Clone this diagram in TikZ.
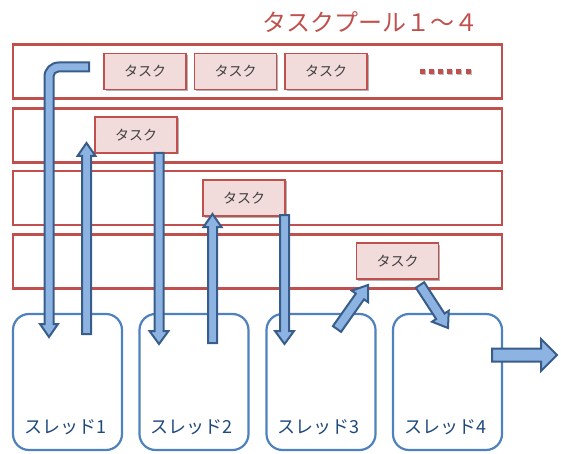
\documentclass[tikz,border=0pt]{standalone}
\usepackage{fontspec}
\newfontfamily\jp{Noto Sans CJK JP}
\usetikzlibrary{calc,shadows}
\definecolor{poolred}{HTML}{C0504D}
\definecolor{taskfill}{HTML}{F2DCDB}
\definecolor{thblue}{HTML}{4F81BD}
\definecolor{thtext}{HTML}{1F497D}
\definecolor{arrfill}{HTML}{8DB3E2}
\definecolor{arrline}{HTML}{385D8A}
\definecolor{tasktext}{HTML}{404040}
% #1 tail, #2 tip, #3 shaft half width, #4 head half width, #5 head length
\newcommand\blockarrow[5]{%
  \coordinate (bap) at ($(#2)!#5!(#1)$);
  \draw[barrow] ($(#1)!#3!90:(#2)$) -- ($(bap)!#3!90:(#2)$) -- ($(bap)!#4!90:(#2)$) -- (#2)
    -- ($(bap)!#4!-90:(#2)$) -- ($(bap)!#3!-90:(#2)$) -- ($(#1)!#3!-90:(#2)$) -- cycle;}
\begin{document}
\begin{tikzpicture}[x=1pt,y=-1pt,
  pool/.style={draw=poolred, line width=2.2pt, minimum width=489pt, minimum height=54pt, inner sep=0pt},
  task/.style={draw=poolred, line width=1.2pt, fill=taskfill, minimum width=82pt, minimum height=36pt,
    inner sep=0pt, text=tasktext, font=\jp\fontsize{14}{14}\selectfont,
    drop shadow={shadow xshift=1.5pt, shadow yshift=-1.5pt, opacity=0.3, fill=black}},
  thread/.style={draw=thblue, line width=2.2pt, rounded corners=16pt, minimum width=109pt, minimum height=136pt, inner sep=0pt},
  thlabel/.style={text=thtext, font=\jp\fontsize{18}{18}\selectfont, inner sep=0pt},
  dotsq/.style={fill=poolred, minimum size=5pt, inner sep=0pt,
    drop shadow={shadow xshift=1pt, shadow yshift=-1.5pt, opacity=0.25, fill=black}},
  barrow/.style={fill=arrfill, draw=arrline, line width=2pt, line join=miter}]
\useasboundingbox (0,0) rectangle (561,454);
% title
\node[text=poolred, font=\jp\fontsize{24}{24}\selectfont, inner sep=0pt] (title) at (370.5,22) {タスクプール１～４};
% pools
\node[pool] (pool1) at (257.5,71.5) {};
\node[pool] (pool2) at (257.5,135.5) {};
\node[pool] (pool3) at (257.5,198) {};
\node[pool] (pool4) at (257.5,261.5) {};
% threads
\node[thread] (th1) at (67.5,382) {};
\node[thread] (th2) at (194,382) {};
\node[thread] (th3) at (321,382) {};
\node[thread] (th4) at (447.5,382) {};
\node[thlabel] (l1) at (65,427) {スレッド1};
\node[thlabel] (l2) at (191.5,427) {スレッド2};
\node[thlabel] (l3) at (318.5,427) {スレッド3};
\node[thlabel] (l4) at (445,427) {スレッド4};
% tasks
\node[task] (t11) at (145,71.5) {タスク};
\node[task] (t12) at (235.5,71.5) {タスク};
\node[task] (t13) at (326,71.5) {タスク};
\node[task] (t2) at (136,135) {タスク};
\node[task] (t3) at (244,198) {タスク};
\node[task] (t4) at (397.5,261) {タスク};
% dots
\foreach \i in {0,...,5} \node[dotsq] (d\i) at (422.5+9.1*\i,71.5) {};
% L-shaped arrow from pool 1 to thread 1
\draw[barrow] (89,62.5) -- (60,62.5) [rounded corners=14pt] -- (44.5,62.5) -- (44.5,110) [sharp corners]
  -- (44.5,324) -- (40,324) -- (49,337) -- (58,324) -- (53.5,324) -- (53.5,110) [rounded corners=5pt]
  -- (53.5,71.5) -- (70,71.5) [sharp corners] -- (89,71.5) -- cycle;
% straight arrows
\coordinate (a2s) at (86.5,334); \coordinate (a2e) at (86.5,143);
\coordinate (a3s) at (159,153); \coordinate (a3e) at (159,344);
\coordinate (a4s) at (212.5,343); \coordinate (a4e) at (212.5,214);
\coordinate (a5s) at (284.5,215); \coordinate (a5e) at (284.5,344);
\coordinate (a6s) at (337,329); \coordinate (a6e) at (368,285);
\coordinate (a7s) at (420,285); \coordinate (a7e) at (448,328);
\coordinate (a8s) at (492,355); \coordinate (a8e) at (557,355);
\blockarrow{a2s}{a2e}{4.5pt}{9pt}{13pt}
\blockarrow{a3s}{a3e}{4.5pt}{9.5pt}{13pt}
\blockarrow{a4s}{a4e}{4.5pt}{9pt}{13pt}
\blockarrow{a5s}{a5e}{4.5pt}{9.5pt}{13pt}
\blockarrow{a6s}{a6e}{5pt}{10pt}{14pt}
\blockarrow{a7s}{a7e}{5pt}{10pt}{14pt}
\blockarrow{a8s}{a8e}{6.5pt}{16pt}{16pt}
\end{tikzpicture}
\end{document}
